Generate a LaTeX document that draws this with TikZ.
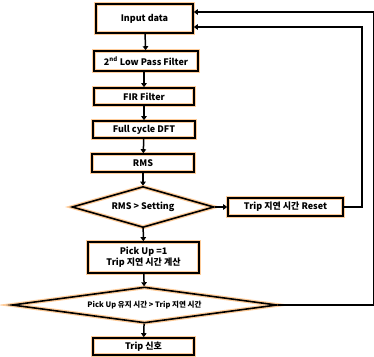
\documentclass[tikz,border=0pt]{standalone}
\usepackage{fontspec}
\setmainfont{Noto Sans CJK KR}
\usetikzlibrary{arrows.meta,shapes.geometric}
\begin{document}
\begin{tikzpicture}[x=1pt,y=-1pt,
	glow/.style={preaction={draw=orange!40,line width=4pt}},
	box/.style={draw=black,line width=1.6pt,glow,font=\bfseries\fontsize{9}{11}\selectfont,inner sep=0pt,align=center},
	cond/.style={box,diamond,inner sep=0pt},
	flow/.style={line width=1.5pt,-{Triangle[length=4pt,width=5.5pt]}},
	loop/.style={line width=1.5pt,-{Triangle[length=4pt,width=5.5pt]}}]
	\useasboundingbox (0,0) rectangle (374,356);
	% main chain
	\node[box,minimum width=97pt,minimum height=29pt] (input) at (144.5,18.5) {Input data};
	\node[box,minimum width=104pt,minimum height=20pt] (lpf) at (146,61) {2\textsuperscript{nd} Low Pass Filter};
	\node[box,minimum width=100pt,minimum height=17pt] (fir) at (144,96.5) {FIR Filter};
	\node[box,minimum width=102pt,minimum height=17pt] (dft) at (144,129.5) {Full cycle DFT};
	\node[box,minimum width=102pt,minimum height=18pt] (rms) at (143,163) {RMS};
	\node[cond,aspect=3.4,minimum width=142pt,minimum height=41pt] (check) at (143,207) {RMS > Setting};
	\node[box,minimum width=115pt,minimum height=18pt] (reset) at (285.5,207) {Trip 지연 시간 Reset};
	\node[box,minimum width=111pt,minimum height=31pt] (pickup) at (143.5,257.5) {Pick Up =1\\Trip 지연 시간 계산};
	\node[cond,aspect=7.3,minimum width=265pt,minimum height=36pt,font=\bfseries\fontsize{7.5}{9}\selectfont] (hold) at (144.5,305) {Pick Up 유지 시간 > Trip 지연 시간};
	\node[box,minimum width=101pt,minimum height=17pt] (trip) at (143.5,346.5) {Trip 신호};
	\draw[flow] (input) -- (lpf);
	\draw[flow] (lpf.south -| fir) -- (fir);
	\draw[flow] (fir) -- (dft);
	\draw[flow] (dft) -- (rms);
	\draw[flow] (rms) -- (check);
	\draw[flow] (check) -- (reset);
	\draw[flow] (check) -- (pickup);
	\draw[flow] (pickup) -- (hold);
	\draw[flow] (hold) -- (trip);
	% feedback
	\draw[loop] (reset.east) -- (362,207) |- ([yshift=-8.5pt]input.east);
	\draw[loop] (hold.east) -- (373.5,305) |- ([yshift=6.5pt]input.east);
\end{tikzpicture}
\end{document}
